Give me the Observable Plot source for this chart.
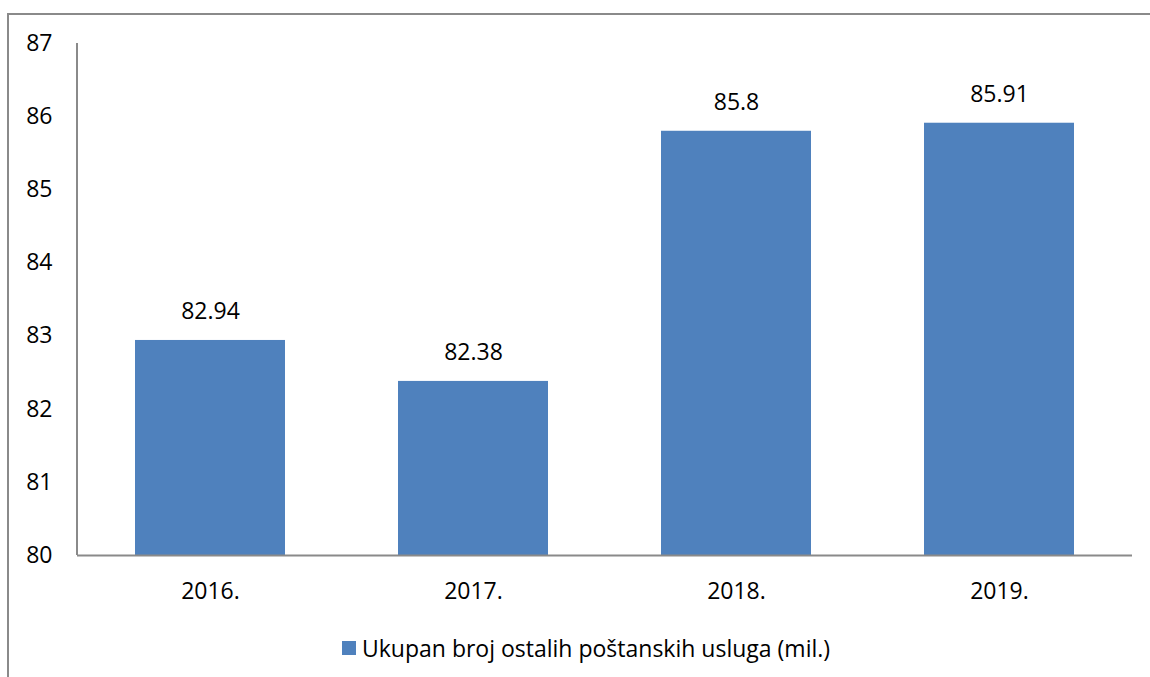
<!DOCTYPE html>
<html><head><meta charset="utf-8">
<script src="https://cdn.jsdelivr.net/npm/d3@7"></script>
<script src="https://cdn.jsdelivr.net/npm/@observablehq/plot@0.6"></script>
<style>
body{margin:0;background:#fff;}
#wrap{position:relative;width:1150px;height:677px;overflow:hidden;font-family:"Open Sans",sans-serif;}
#frame{position:absolute;left:7px;top:13px;width:1200px;height:720px;border-left:2px solid #8a8a8a;border-top:2px solid #8a8a8a;box-sizing:border-box;}
#chart{position:absolute;left:0;top:0;}
#legend{position:absolute;left:342px;top:633px;font-size:23px;line-height:30px;color:#000;display:flex;align-items:center;white-space:nowrap;}
#legend span.sw{display:inline-block;width:14px;height:14px;background:#4F81BD;margin-right:6px;}
</style></head>
<body><div id="wrap"><div id="frame"></div><div id="chart"></div>
<div id="legend"><span class="sw"></span><span>Ukupan broj ostalih poštanskih usluga (mil.)</span></div></div>
<script>
const years = ["2016.", "2017.", "2018.", "2019."];
const values = [82.94, 82.38, 85.8, 85.91];
const yTicks = [80, 81, 82, 83, 84, 85, 86, 87];
const data = years.map((y, i) => ({year: y, value: values[i]}));

const leftAxisLine = (index, scales, values, dims) => {
  const g = d3.create("svg:g");
  g.append("line")
    .attr("x1", dims.marginLeft).attr("x2", dims.marginLeft)
    .attr("y1", dims.marginTop).attr("y2", dims.height - dims.marginBottom)
    .attr("stroke", "#8a8a8a").attr("stroke-width", 2);
  return g.node();
};

const chart = Plot.plot({
  width: 1150,
  height: 620,
  marginLeft: 77,
  marginRight: 18,
  marginTop: 43,
  marginBottom: 65,
  style: {fontFamily: "'Open Sans', sans-serif", fontSize: "23px", color: "#000", background: "transparent"},
  x: {domain: years, paddingInner: 0.43, paddingOuter: 0.215, label: null, tickSize: 0, tickPadding: 27},
  y: {domain: [80, 87], ticks: yTicks, tickFormat: "d", label: null, tickSize: 0, tickPadding: 25},
  marks: [
    Plot.rectY(data, {x: "year", y1: 80, y2: "value", fill: "#4F81BD"}),
    Plot.text(data, {x: "year", y: "value", text: d => String(d.value), dy: -29, fontSize: 23, fill: "#000"}),
    leftAxisLine,
    Plot.ruleY([80], {stroke: "#8a8a8a", strokeWidth: 2})
  ]
});
document.getElementById("chart").appendChild(chart);
</script></body></html>
